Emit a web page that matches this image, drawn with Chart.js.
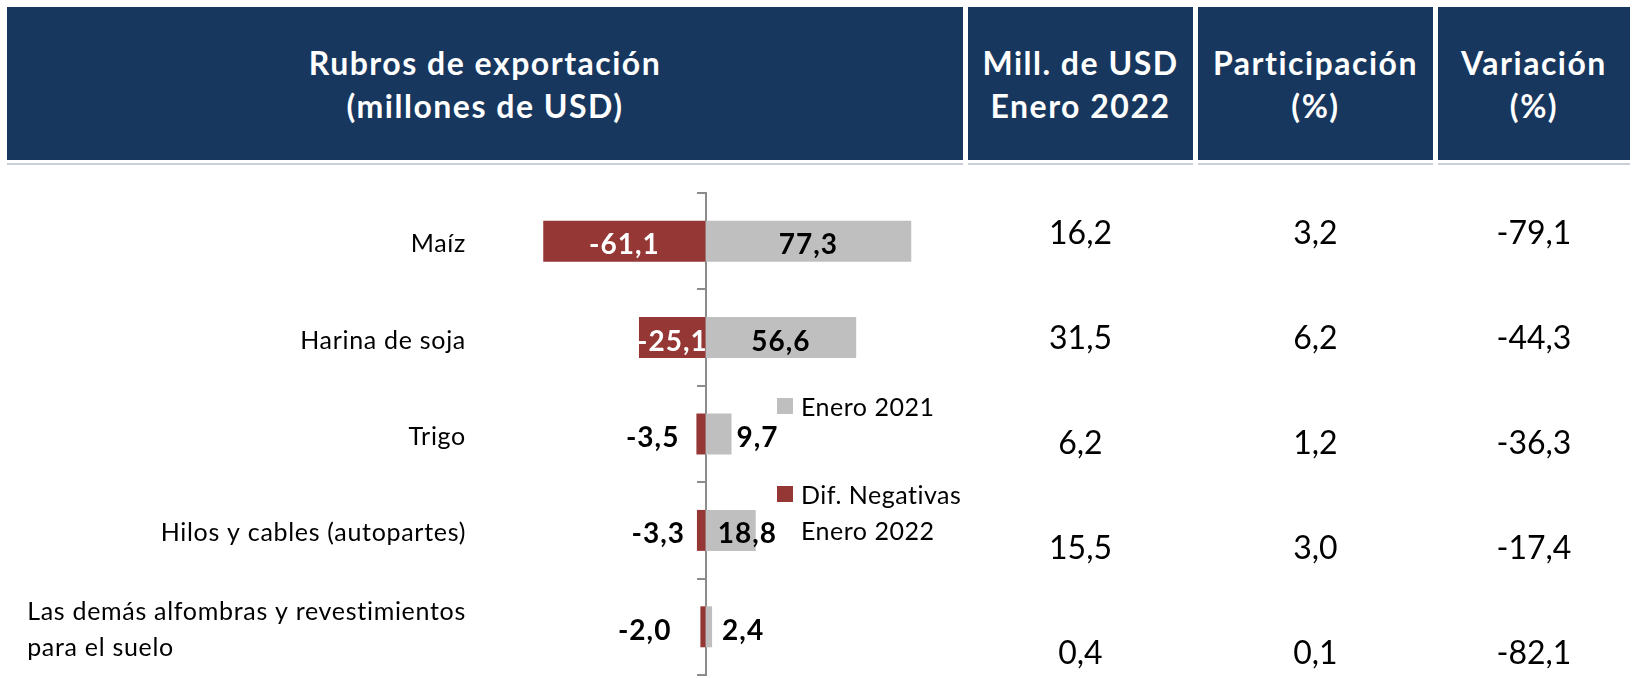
<!DOCTYPE html>
<html lang="es">
<head>
<meta charset="utf-8">
<title>Rubros de exportación</title>
<script src="https://cdn.jsdelivr.net/npm/chart.js@4.4.0/dist/chart.umd.min.js"></script>
<style>
  html, body { margin: 0; padding: 0; background: #fff; }
  body { width: 1635px; height: 678px; position: relative; overflow: hidden; font-family: Lato, 'Open Sans', sans-serif; }
  #grafico { position: absolute; left: 0; top: 0; }
  .encabezado { position: absolute; top: 7px; height: 153px; background: #17375E; color: #fff;
    font-weight: 700; font-size: 32px; letter-spacing: 1.5px; line-height: 43px;
    display: flex; flex-direction: column; align-items: center; justify-content: center; text-align: center; }
  .linea { position: absolute; top: 163px; height: 2px; background: #C9CED9; }
  .celda { position: absolute; height: 105px; line-height: 105px; text-align: center; font-size: 32px; color: #000; }
</style>
</head>
<body>
<canvas id="grafico" width="1635" height="678"></canvas>
<div id="tabla"></div>
<script>
// Datos del gráfico
const categorias = ['Maíz', 'Harina de soja', 'Trigo', 'Hilos y cables (autopartes)', ['Las demás alfombras y revestimientos', 'para el suelo']];
const enero2021 = [77.3, 56.6, 9.7, 18.8, 2.4];
const difNegativas = [-61.1, -25.1, -3.5, -3.3, -2.0];
const series = ['Enero 2021', 'Dif. Negativas Enero 2022'];

// Datos de la tabla
const millUsdEnero2022 = [16.2, 31.5, 6.2, 15.5, 0.4];
const participacion = [3.2, 6.2, 1.2, 3.0, 0.1];
const variacion = [-79.1, -44.3, -36.3, -17.4, -82.1];
const encabezados = [
  ['Rubros de exportación', '(millones de USD)'],
  ['Mill. de USD', 'Enero 2022'],
  ['Participación', '(%)'],
  ['Variación', '(%)']
];

// Columnas de la tabla (x inicial, x final)
const columnas = [[7, 963], [968, 1193], [1198, 1433], [1438, 1630]];

const fmt = v => v.toFixed(1).replace('.', ',');

/**
 * Arma el encabezado y las celdas de la tabla.
 */
function armarTabla() {
  const tabla = document.getElementById('tabla');
  encabezados.forEach((lineas, i) => {
    const [x0, x1] = columnas[i];
    const h = document.createElement('div');
    h.className = 'encabezado';
    h.style.left = x0 + 'px';
    h.style.width = (x1 - x0) + 'px';
    lineas.forEach(t => {
      const s = document.createElement('div');
      s.textContent = t;
      h.appendChild(s);
    });
    tabla.appendChild(h);

    const l = document.createElement('div');
    l.className = 'linea';
    l.style.left = x0 + 'px';
    l.style.width = (x1 - x0) + 'px';
    tabla.appendChild(l);
  });

  [millUsdEnero2022, participacion, variacion].forEach((valores, c) => {
    const [x0, x1] = columnas[c + 1];
    valores.forEach((v, r) => {
      const d = document.createElement('div');
      d.className = 'celda';
      d.style.left = x0 + 'px';
      d.style.width = (x1 - x0) + 'px';
      d.style.top = (179 + r * 105) + 'px';
      d.textContent = fmt(v);
      tabla.appendChild(d);
    });
  });
}

// Posición de las etiquetas de valor por serie
const estiloEtiquetas = [
  { pos: ['centro', 'centro', 'fuera', 'fuera', 'fuera'], sep: [0, 0, 5, -38, 10], color: ['#000', '#000', '#000', '#000', '#000'] },
  { pos: ['centro', 'centro', 'fuera', 'fuera', 'fuera'], sep: [0, 0, 17, 12, 29], color: ['#fff', '#fff', '#000', '#000', '#000'] }
];

const pluginEtiquetas = {
  id: 'etiquetas',
  afterDatasetsDraw(chart) {
    const ctx = chart.ctx;
    ctx.save();
    ctx.font = 'bold 28px Lato, sans-serif';
    ctx.letterSpacing = '1px';
    ctx.textBaseline = 'alphabetic';
    chart.data.datasets.forEach((ds, di) => {
      const meta = chart.getDatasetMeta(di);
      const est = estiloEtiquetas[di];
      meta.data.forEach((bar, i) => {
        const v = ds.data[i];
        const txt = fmt(v);
        const y = bar.y + 13;
        ctx.fillStyle = est.color[i];
        if (est.pos[i] === 'centro') {
          ctx.textAlign = 'center';
          ctx.fillText(txt, (bar.x + bar.base) / 2, y);
        } else if (v < 0) {
          ctx.textAlign = 'right';
          ctx.fillText(txt, bar.x - est.sep[i], y);
        } else {
          ctx.textAlign = 'left';
          ctx.fillText(txt, bar.x + est.sep[i], y);
        }
      });
    });
    ctx.restore();
  }
};

const pluginCategorias = {
  id: 'categorias',
  afterDraw(chart) {
    const ctx = chart.ctx;
    const yScale = chart.scales.y;
    const derecha = 466;
    ctx.save();
    ctx.font = '25px Lato, sans-serif';
    ctx.letterSpacing = '0.7px';
    ctx.fillStyle = '#000';
    ctx.textBaseline = 'alphabetic';
    ctx.textAlign = 'left';
    categorias.forEach((c, i) => {
      const lineas = Array.isArray(c) ? c : [c];
      const ancho = Math.max(...lineas.map(t => ctx.measureText(t).width));
      const yc = yScale.getPixelForValue(i);
      lineas.forEach((t, k) => {
        ctx.fillText(t, derecha - ancho, yc + 11 - (lineas.length - 1) * 18 + k * 36);
      });
    });
    ctx.restore();
  }
};

const pluginLeyenda = {
  id: 'leyenda',
  afterDraw(chart) {
    const ctx = chart.ctx;
    ctx.save();
    ctx.font = '25px Lato, sans-serif';
    ctx.letterSpacing = '0.5px';
    ctx.textBaseline = 'alphabetic';
    ctx.textAlign = 'left';
    const x = 777;
    const filas = [398, 486];
    chart.data.datasets.forEach((ds, di) => {
      const y = filas[di];
      ctx.fillStyle = ds.backgroundColor;
      ctx.fillRect(x, y, 16, 16);
      // ajuste de texto en líneas de hasta 175px
      const palabras = ds.label.split(' ');
      const lineas = [];
      let actual = '';
      palabras.forEach(p => {
        const prueba = actual ? actual + ' ' + p : p;
        if (ctx.measureText(prueba).width > 175 && actual) {
          lineas.push(actual);
          actual = p;
        } else {
          actual = prueba;
        }
      });
      lineas.push(actual);
      ctx.fillStyle = '#000';
      lineas.forEach((t, k) => ctx.fillText(t, x + 24, y + 18 + k * 36));
    });
    ctx.restore();
  }
};

armarTabla();

const ctx = document.getElementById('grafico').getContext('2d');
new Chart(ctx, {
  type: 'bar',
  data: {
    labels: categorias,
    datasets: [
      { label: series[0], data: enero2021, backgroundColor: '#BFBFBF' },
      { label: series[1], data: difNegativas, backgroundColor: '#953735' }
    ]
  },
  options: {
    indexAxis: 'y',
    responsive: false,
    animation: false,
    datasets: {
      bar: { categoryPercentage: 1, barPercentage: 0.425 }
    },
    layout: { padding: { left: 493, right: 690, top: 193, bottom: 3 } },
    plugins: {
      legend: { display: false },
      tooltip: { enabled: false }
    },
    scales: {
      x: { display: false, stacked: true, min: -80, max: 90 },
      y: {
        stacked: true,
        position: { x: 0 },
        z: 1,
        grid: { drawOnChartArea: false, tickLength: 8, color: '#8C8C8C', lineWidth: 2, offset: true },
        border: { color: '#8C8C8C', width: 2 },
        ticks: { display: false }
      }
    }
  },
  plugins: [pluginEtiquetas, pluginCategorias, pluginLeyenda]
});
</script>
</body>
</html>
